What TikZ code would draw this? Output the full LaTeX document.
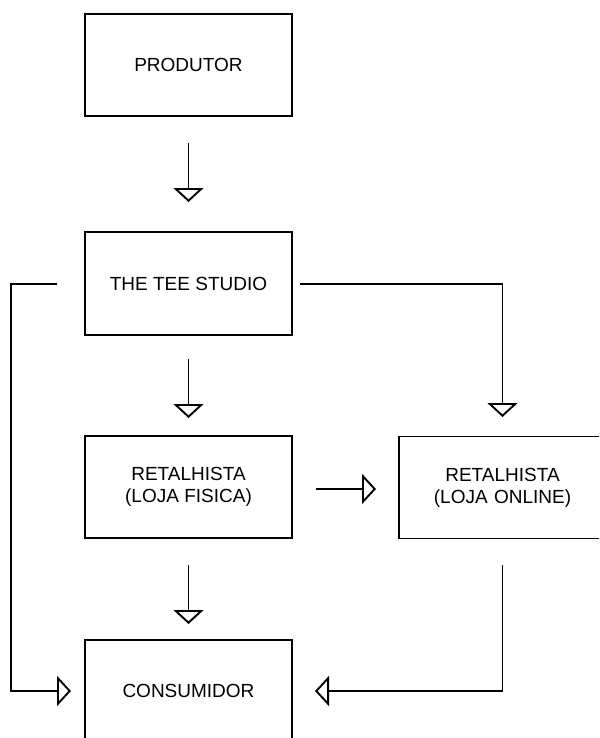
\documentclass[tikz,border=0pt]{standalone}
\usepackage{fontspec}
\setmainfont{Liberation Sans}
\usetikzlibrary{arrows.meta}
\begin{document}
\begin{tikzpicture}[x=1pt,y=-1pt,
  box/.style={draw=black, line width=1.9pt, minimum width=207pt, minimum height=102pt,
    inner sep=0pt, align=center, font=\fontsize{19}{22}\selectfont},
  conn/.style={draw=black, line width=1.9pt,
    -{Triangle[open, length=14pt, width=30pt, line width=1.9pt]}},
  plain/.style={draw=black, line width=1.9pt}]
\useasboundingbox (0,0) rectangle (599,738);
\clip (0,0) rectangle (599,738);
\node[box] (prod) at (188.5,65) {PRODUTOR};
\node[box, minimum height=103pt] (tee) at (188.5,283.5) {THE TEE STUDIO};
\node[box] (fis) at (188.5,487) {RETALHISTA\\(LOJA FISICA)};
\node[box, text width=200pt] (onl) at (502.5,487.5) {RETALHISTA\\(LOJA ONLINE)};
\node[box] (cons) at (188.5,691) {CONSUMIDOR};
% free ends
\coordinate (p1) at (188.5,143);
\coordinate (p1e) at (188.5,202);
\coordinate (t1) at (188.5,359);
\coordinate (t1e) at (188.5,418);
\coordinate (tl) at (57,284);
\coordinate (tlc1) at (11,284);
\coordinate (tlc2) at (11,691);
\coordinate (tle) at (71,691);
\coordinate (tr) at (300,284);
\coordinate (trc) at (502.5,284);
\coordinate (tre) at (502.5,417);
\coordinate (f1) at (316,489);
\coordinate (f1e) at (376,489);
\coordinate (f2) at (188.5,565);
\coordinate (f2e) at (188.5,624);
\coordinate (o1) at (502.5,565);
\coordinate (oc) at (502.5,691);
\coordinate (o1e) at (315,691);
\draw[conn] (p1) -- (p1e);
\draw[conn] (t1) -- (t1e);
\draw[conn] (tl) -- (tlc1) -- (tlc2) -- (tle);
\draw[conn] (tr) -- (trc) -- (tre);
\draw[conn] (f1) -- (f1e);
\draw[conn] (f2) -- (f2e);
\draw[conn] (o1) -- (oc) -- (o1e);
\end{tikzpicture}
\end{document}
